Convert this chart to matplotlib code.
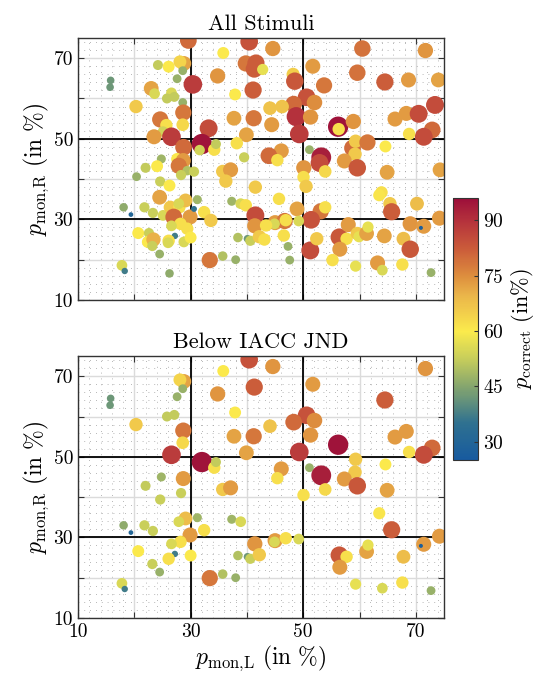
import numpy as np
import matplotlib
matplotlib.use('Agg')
import matplotlib.pyplot as plt
from matplotlib.colors import LinearSegmentedColormap, Normalize

plt.rcParams['font.family'] = 'serif'
plt.rcParams['font.serif'] = ['cmr10', 'DejaVu Serif']
plt.rcParams['mathtext.fontset'] = 'cm'
plt.rcParams['axes.formatter.use_mathtext'] = True

# monaural probabilities (left / right), percent correct, and below-IACC-JND flag
p_mon_L = [29.6, 40.4, 35.8, 24.2, 26.1, 28.8, 28.1, 28.6, 27.6, 30.4, 34.8, 39.8, 41.3, 41.6, 41.1,
           37.9, 15.8, 15.7, 23.0, 23.6, 26.6, 25.8, 27.1, 20.3, 28.6, 28.7, 24.6, 25.7, 28.6, 25.1,
           23.5, 26.6, 33.2, 37.7, 41.2, 39.9, 32.0, 28.75, 31.6, 34.2, 34.5, 38.2, 39.5, 24.8, 27.6,
           28.7, 27.9, 24.05, 22.0, 29.4, 28.3, 30.6, 20.4, 35.7, 37.1, 36.25, 24.6, 26.25, 41.5,
           44.6, 60.5, 71.7, 42.8, 48.2, 51.7, 48.5, 53.7, 59.6, 64.5, 68.7, 74.0, 50.6, 52.0, 48.3,
           44.1, 46.25, 48.75, 51.3, 44.4, 56.2, 56.3, 58.9, 66.3, 68.3, 70.5, 73.4, 72.9, 71.4, 68.8,
           49.3, 51.1, 46.1, 43.9, 45.4, 53.2, 52.9, 53.9, 50.1, 50.05, 50.5, 58.75, 59.2, 57.3, 59.3,
           61.4, 59.6, 64.6, 64.9, 74.3, 63.9, 63.5,
           24.5, 18.1, 19.4, 21.8, 23.3, 25.1, 26.4, 28.0, 29.1, 27.9, 27.0, 29.9, 30.6, 31.2, 32.4,
           33.6, 28.2, 26.6, 29.4, 20.7, 22.6, 22.4, 23.4, 27.2, 26.1, 26.0, 28.8, 30.0, 23.2, 24.5,
           17.8, 18.3, 26.25, 33.4, 35.7, 38.0, 37.3, 38.9, 39.8, 38.4, 40.1, 40.6, 41.5, 41.4, 42.2,
           45.7, 48.9, 53.1, 53.9, 51.4, 45.0, 46.7, 46.9, 49.2, 44.9, 43.4, 43.1, 46.55, 47.3, 47.6,
           51.25, 52.4, 56.4, 57.7, 56.5, 58.0, 55.2, 59.3, 59.6, 59.9, 61.25, 61.5, 64.4, 63.2, 64.05,
           67.6, 67.8, 69.0, 69.0, 71.4, 70.9, 74.2, 72.7, 65.4, 65.7, 70.2]
p_mon_R = [74.4, 74.1, 71.3, 68.3, 67.9, 68.7, 69.1, 66.9, 64.9, 63.5, 65.6, 68.7, 67.3, 68.8, 62.1,
           61.0, 64.5, 62.8, 62.5, 61.2, 61.4, 60.0, 60.4, 58.0, 59.0, 56.5, 54.8, 53.4, 53.5, 51.8,
           50.5, 50.5, 52.6, 55.1, 55.1, 51.0, 48.7, 47.9, 47.2, 47.3, 48.7, 48.9, 45.4, 45.0, 45.0,
           44.6, 43.3, 43.2, 42.8, 42.1, 41.0, 41.85, 40.6, 41.9, 42.3, 39.5, 39.4, 38.4, 38.0,
           72.4, 72.4, 71.9, 67.2, 66.0, 68.0, 64.3, 63.25, 66.4, 64.1, 64.6, 64.6, 60.3, 59.0, 58.6,
           57.6, 58.0, 55.5, 55.4, 53.5, 53.0, 52.4, 54.3, 54.9, 56.3, 56.2, 58.4, 52.2, 50.5, 51.2,
           51.2, 47.3, 47.0, 45.8, 44.7, 45.4, 44.0, 41.9, 42.8, 40.5, 38.2, 47.7, 46.2, 44.5, 49.4,
           49.1, 42.8, 48.1, 41.7, 42.3, 36.7, 36.0,
           35.5, 33.0, 31.2, 33.0, 31.6, 31.0, 33.0, 33.0, 34.7, 33.9, 30.6, 30.6, 32.6, 34.9, 31.8,
           29.75, 28.9, 28.4, 27.7, 26.6, 26.6, 24.4, 25.0, 25.9, 24.7, 24.2, 24.4, 25.5, 23.4, 21.4,
           18.6, 17.2, 16.6, 19.9, 20.9, 20.0, 34.5, 33.9, 33.5, 25.5, 25.2, 24.7, 31.0, 28.4, 25.7,
           35.1, 32.6, 32.0, 33.0, 29.9, 29.2, 29.6, 29.8, 29.6, 28.9, 28.5, 25.0, 26.0, 23.3, 19.9,
           22.3, 25.2, 25.6, 25.2, 22.6, 28.7, 19.9, 18.4, 26.5, 25.7, 26.5, 28.1, 25.9, 19.2, 17.4,
           18.8, 25.2, 22.6, 28.9, 28.3, 27.9, 30.3, 16.8, 33.9, 31.9, 33.9]
p_correct = [80, 84, 60, 52, 60, 72, 64, 47, 47, 88, 74, 78, 82, 82, 82,
             60, 42, 42, 72, 55, 55, 52, 52, 66, 47, 78, 78, 62, 63, 54,
             73, 88, 85, 72, 78, 72, 95, 80, 54, 62, 52, 62, 53, 48, 60,
             73, 78, 60, 52, 50, 53, 53, 47, 66, 73, 66, 53, 60, 66,
             74, 79, 74, 57, 65, 73, 83, 78, 79, 82, 73, 72, 84, 75, 80,
             67, 67, 90, 74, 73, 95, 62, 74, 73, 73, 85, 85, 80, 85, 62,
             88, 47, 73, 80, 62, 93, 85, 63, 74, 62, 66, 80, 66, 73, 66,
             78, 83, 60, 72, 72, 62, 61,
             72, 46, 30, 53, 53, 55, 66, 62, 68, 55, 80, 73, 35, 48, 62,
             66, 62, 55, 62, 60, 53, 60, 70, 37, 62, 55, 55, 60, 53, 47,
             55, 37, 46, 78, 50, 47, 48, 55, 62, 50, 42, 53, 85, 74, 66,
             62, 72, 78, 62, 84, 73, 78, 62, 55, 55, 62, 62, 62, 47, 47,
             85, 66, 83, 62, 73, 73, 62, 57, 66, 57, 72, 57, 72, 73, 55,
             62, 68, 83, 74, 73, 27, 73, 47, 66, 82, 68]
below_jnd = [0, 1, 1, 0, 0, 1, 1, 1, 1, 0, 1, 0, 1, 0, 0,
             1, 1, 1, 0, 0, 0, 1, 1, 1, 0, 1, 0, 0, 1, 0,
             0, 1, 0, 1, 1, 1, 1, 0, 0, 1, 1, 0, 0, 1, 0,
             1, 0, 0, 1, 0, 1, 0, 0, 1, 1, 0, 1, 0, 0,
             1, 0, 1, 0, 0, 1, 0, 0, 0, 1, 0, 0, 1, 1, 1,
             1, 0, 0, 1, 0, 1, 0, 0, 1, 1, 0, 0, 1, 1, 1,
             1, 1, 1, 0, 1, 1, 0, 1, 0, 1, 0, 0, 1, 1, 1,
             0, 1, 1, 1, 0, 0, 1,
             0, 1, 1, 1, 1, 0, 0, 0, 1, 1, 0, 1, 0, 1, 1,
             0, 1, 1, 0, 1, 0, 0, 0, 1, 1, 0, 0, 1, 1, 1,
             1, 1, 0, 1, 1, 1, 1, 1, 0, 1, 1, 1, 0, 1, 1,
             0, 0, 0, 0, 0, 1, 0, 1, 1, 1, 0, 0, 0, 0, 0,
             0, 0, 1, 1, 1, 0, 0, 1, 0, 0, 1, 1, 0, 0, 1,
             1, 1, 0, 0, 1, 1, 1, 1, 0, 1, 0]

titles = ['All Stimuli', 'Below IACC JND']
ticks = [10, 20, 30, 40, 50, 60, 70]
ticklabels = ['10', '', '30', '', '50', '', '70']
cbar_ticks = [30, 45, 60, 75, 90]

x = np.array(p_mon_L)
y = np.array(p_mon_R)
pc = np.array(p_correct)
sel = np.array(below_jnd) == 1

cmap = LinearSegmentedColormap.from_list('pc', [
    (0.00, '#175a9f'), (0.14, '#2f7190'), (0.28, '#86a66e'), (0.38, '#c3cb5c'),
    (0.49, '#fbeb4c'), (0.63, '#eab44a'), (0.70, '#de903e'), (0.80, '#cc5e3a'),
    (0.91, '#b6343c'), (1.00, '#9c0e3a')])
norm = Normalize(vmin=25, vmax=96)

# marker diameter grows with p_correct
diam_px = 4 + (pc - 27) * 0.24
sizes = (diam_px * 0.72) ** 2

fig = plt.figure(figsize=(5.42, 6.93), dpi=100)
ax1 = fig.add_axes([0.1439, 0.5671, 0.6753, 0.378])
ax2 = fig.add_axes([0.1439, 0.1082, 0.6753, 0.378])

for ax, title, mask in zip([ax1, ax2], titles, [np.ones_like(sel), sel]):
    ax.set_xlim(10, 75)
    ax.set_ylim(10, 75)
    ax.set_xticks(ticks)
    ax.set_yticks(ticks)
    ax.set_xticks(np.arange(10, 76, 2), minor=True)
    ax.set_yticks(np.arange(10, 76, 2), minor=True)
    ax.set_xticklabels(ticklabels)
    ax.set_yticklabels(ticklabels)
    ax.set_axisbelow(True)
    ax.grid(which='major', color='0.86', lw=1.0)
    ax.grid(which='minor', color='0.62', lw=0.6, linestyle=(0, (1, 6)))
    ax.tick_params(which='major', direction='in', top=True, right=True, length=4,
                   width=0.8, labelsize=14, color='0.2')
    ax.tick_params(which='minor', length=0)
    for v in [30, 50]:
        ax.axvline(v, color='black', lw=1.3, zorder=2)
        ax.axhline(v, color='black', lw=1.3, zorder=2)
    sc = ax.scatter(x[mask], y[mask], s=sizes[mask], c=pc[mask], cmap=cmap, norm=norm,
                    edgecolors='none', zorder=3)
    ax.set_title(title, fontsize=16, pad=6)
    ax.set_ylabel(r'$p_{\mathrm{mon{,}R}}\ \mathrm{(in\ \%)}$', fontsize=17, labelpad=2)
    for sp in ax.spines.values():
        sp.set_color('0.2')
        sp.set_linewidth(1.0)
        sp.set_zorder(4)

ax1.set_xticklabels([])
ax2.set_xlabel(r'$p_{\mathrm{mon{,}L}}\ \mathrm{(in\ \%)}$', fontsize=17, labelpad=2)

cax = fig.add_axes([0.8358, 0.3362, 0.0461, 0.378])
cb = fig.colorbar(sc, cax=cax)
cb.set_ticks(cbar_ticks)
cb.ax.tick_params(direction='in', length=3, labelsize=14, color='0.2')
cb.outline.set_edgecolor('0.2')
cb.set_label(r'$p_{\mathrm{correct}}\ \mathrm{(in\%)}$', fontsize=16, labelpad=4)

fig.savefig('out.png', dpi=100)
